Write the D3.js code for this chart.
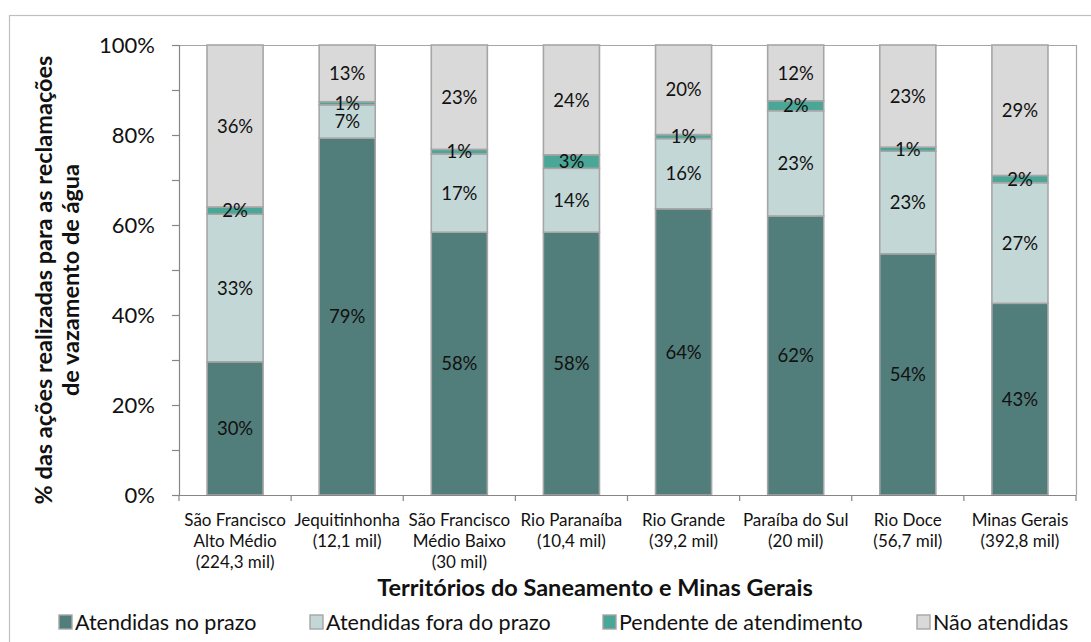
<!DOCTYPE html>
<html>
<head>
<meta charset="utf-8">
<script src="https://cdn.jsdelivr.net/npm/d3@7"></script>
<style>
  html, body { margin: 0; padding: 0; background: #fff; }
  svg { display: block; font-family: Lato, "Open Sans", sans-serif; }
</style>
</head>
<body>
<svg id="chart" width="1091" height="642"></svg>
<script>
// Territories (category lines) and their totals of complaints
const categories = [
  ["São Francisco", "Alto Médio", "(224,3 mil)"],
  ["Jequitinhonha", "(12,1 mil)"],
  ["São Francisco", "Médio Baixo", "(30 mil)"],
  ["Rio Paranaíba", "(10,4 mil)"],
  ["Rio Grande", "(39,2 mil)"],
  ["Paraíba do Sul", "(20 mil)"],
  ["Rio Doce", "(56,7 mil)"],
  ["Minas Gerais", "(392,8 mil)"]
];

// Share of actions (%) per territory
const atendidasNoPrazo     = [29.6, 79.3, 58.4, 58.4, 63.6, 62.0, 53.6, 42.6];
const atendidasForaDoPrazo = [32.8,  7.4, 17.4, 14.2, 15.6, 23.4, 22.8, 26.8];
const pendenteAtendimento  = [ 1.6,  0.7,  1.0,  3.0,  0.9,  2.2,  0.9,  1.6];
const naoAtendidas         = [36.0, 12.6, 23.2, 24.4, 19.9, 12.4, 22.7, 29.0];

const seriesNames = ["Atendidas no prazo", "Atendidas fora do prazo", "Pendente de atendimento", "Não atendidas"];
const seriesValues = [atendidasNoPrazo, atendidasForaDoPrazo, pendenteAtendimento, naoAtendidas];
const seriesColors = ["#517d7b", "#c3d8d6", "#4aa696", "#d9d9d9"];

const yTicks = [0, 10, 20, 30, 40, 50, 60, 70, 80, 90, 100];

const svg = d3.select("#chart");
const plot = { left: 179, right: 1076, top: 45, bottom: 495 };

// outer chart frame
svg.append("rect")
  .attr("x", 9.5).attr("y", 15.5)
  .attr("width", 1100).attr("height", 700)
  .attr("fill", "none").attr("stroke", "#bfbfbf").attr("stroke-width", 1.2);

const keys = categories.map((c, i) => "c" + i);
const rows = keys.map((k, i) => {
  const r = { key: k };
  seriesNames.forEach((s, j) => { r[s] = seriesValues[j][i]; });
  return r;
});

const x = d3.scaleBand().domain(keys).range([plot.left, plot.right])
  .paddingInner(0.5).paddingOuter(0.25);
const y = d3.scaleLinear().domain([0, 100]).range([plot.bottom, plot.top]);
const color = d3.scaleOrdinal().domain(seriesNames).range(seriesColors);

// plot area border (top and right)
svg.append("path")
  .attr("d", `M${plot.left},${plot.top + 0.5}H${plot.right + 0.5}V${plot.bottom}`)
  .attr("fill", "none").attr("stroke", "#a6a6a6").attr("stroke-width", 1.2);

const stack = d3.stack().keys(seriesNames)(rows);

const layers = svg.append("g").selectAll("g").data(stack).join("g")
  .attr("fill", d => color(d.key));

layers.selectAll("rect").data(d => d).join("rect")
  .attr("x", d => x(d.data.key))
  .attr("y", d => y(d[1]))
  .attr("width", x.bandwidth())
  .attr("height", d => y(d[0]) - y(d[1]))
  .attr("stroke", "#a6a6a6")
  .attr("stroke-width", 1.6);

// value labels
const labels = svg.append("g")
  .attr("font-size", 18.5).attr("fill", "#111").attr("text-anchor", "middle");
stack.forEach(layer => {
  layer.forEach(d => {
    labels.append("text")
      .attr("x", x(d.data.key) + x.bandwidth() / 2)
      .attr("y", (y(d[0]) + y(d[1])) / 2)
      .attr("dy", "0.36em")
      .text(Math.round(d[1] - d[0]) + "%");
  });
});

// y axis
const yAxis = d3.axisLeft(y).tickValues(yTicks).tickSize(7)
  .tickFormat(d => (d % 20 === 0 ? d + "%" : ""));
const gy = svg.append("g").attr("transform", `translate(${plot.left},0)`).call(yAxis);
gy.select(".domain").attr("stroke", "#868686").attr("stroke-width", 1.2);
gy.selectAll(".tick line").attr("stroke", "#868686").attr("stroke-width", 1.2);
gy.selectAll(".tick text")
  .attr("font-family", "Lato, sans-serif")
  .attr("font-size", 22).attr("fill", "#111").attr("x", -24);

// x axis: line with ticks at category boundaries
const step = x.step();
const bounds = d3.range(keys.length + 1).map(i => plot.left + i * step);
const gx = svg.append("g");
gx.append("line")
  .attr("x1", plot.left).attr("x2", plot.right)
  .attr("y1", plot.bottom + 0.5).attr("y2", plot.bottom + 0.5)
  .attr("stroke", "#868686").attr("stroke-width", 1.2);
gx.selectAll("line.tk").data(bounds).join("line").attr("class", "tk")
  .attr("x1", d => d).attr("x2", d => d)
  .attr("y1", plot.bottom).attr("y2", plot.bottom + 6)
  .attr("stroke", "#868686").attr("stroke-width", 1.2);

const catText = gx.selectAll("text.cat").data(categories).join("text").attr("class", "cat")
  .attr("text-anchor", "middle").attr("font-size", 17).attr("fill", "#111")
  .attr("transform", (d, i) => `translate(${x(keys[i]) + x.bandwidth() / 2},${plot.bottom + 31})`);
catText.selectAll("tspan").data(d => d).join("tspan")
  .attr("x", 0).attr("y", (d, i) => i * 21)
  .text(d => d);

// axis titles
svg.append("text")
  .attr("x", 595).attr("y", 596)
  .attr("text-anchor", "middle").attr("font-size", 23.5).attr("font-weight", "bold")
  .attr("fill", "#111")
  .text("Territórios do Saneamento e Minas Gerais");

const yTitle = svg.append("text")
  .attr("transform", "translate(0,280) rotate(-90)")
  .attr("text-anchor", "middle").attr("font-size", 23.5).attr("font-weight", "bold")
  .attr("fill", "#111");
yTitle.append("tspan").attr("x", 0).attr("y", 52).text("% das ações realizadas para as reclamações");
yTitle.append("tspan").attr("x", 0).attr("y", 79).text("de vazamento de água");

// legend
const legendX = [75, 326, 619, 933];
const legend = svg.append("g").selectAll("g").data(seriesNames).join("g")
  .attr("transform", (d, i) => `translate(${legendX[i]},622)`);
legend.append("rect")
  .attr("x", -16).attr("y", -7).attr("width", 13).attr("height", 14)
  .attr("fill", d => color(d)).attr("stroke", "#a6a6a6").attr("stroke-width", 1.4);
legend.append("text")
  .attr("x", 0).attr("dy", "0.36em").attr("font-size", 21.5).attr("fill", "#111")
  .text(d => d);
</script>
</body>
</html>
